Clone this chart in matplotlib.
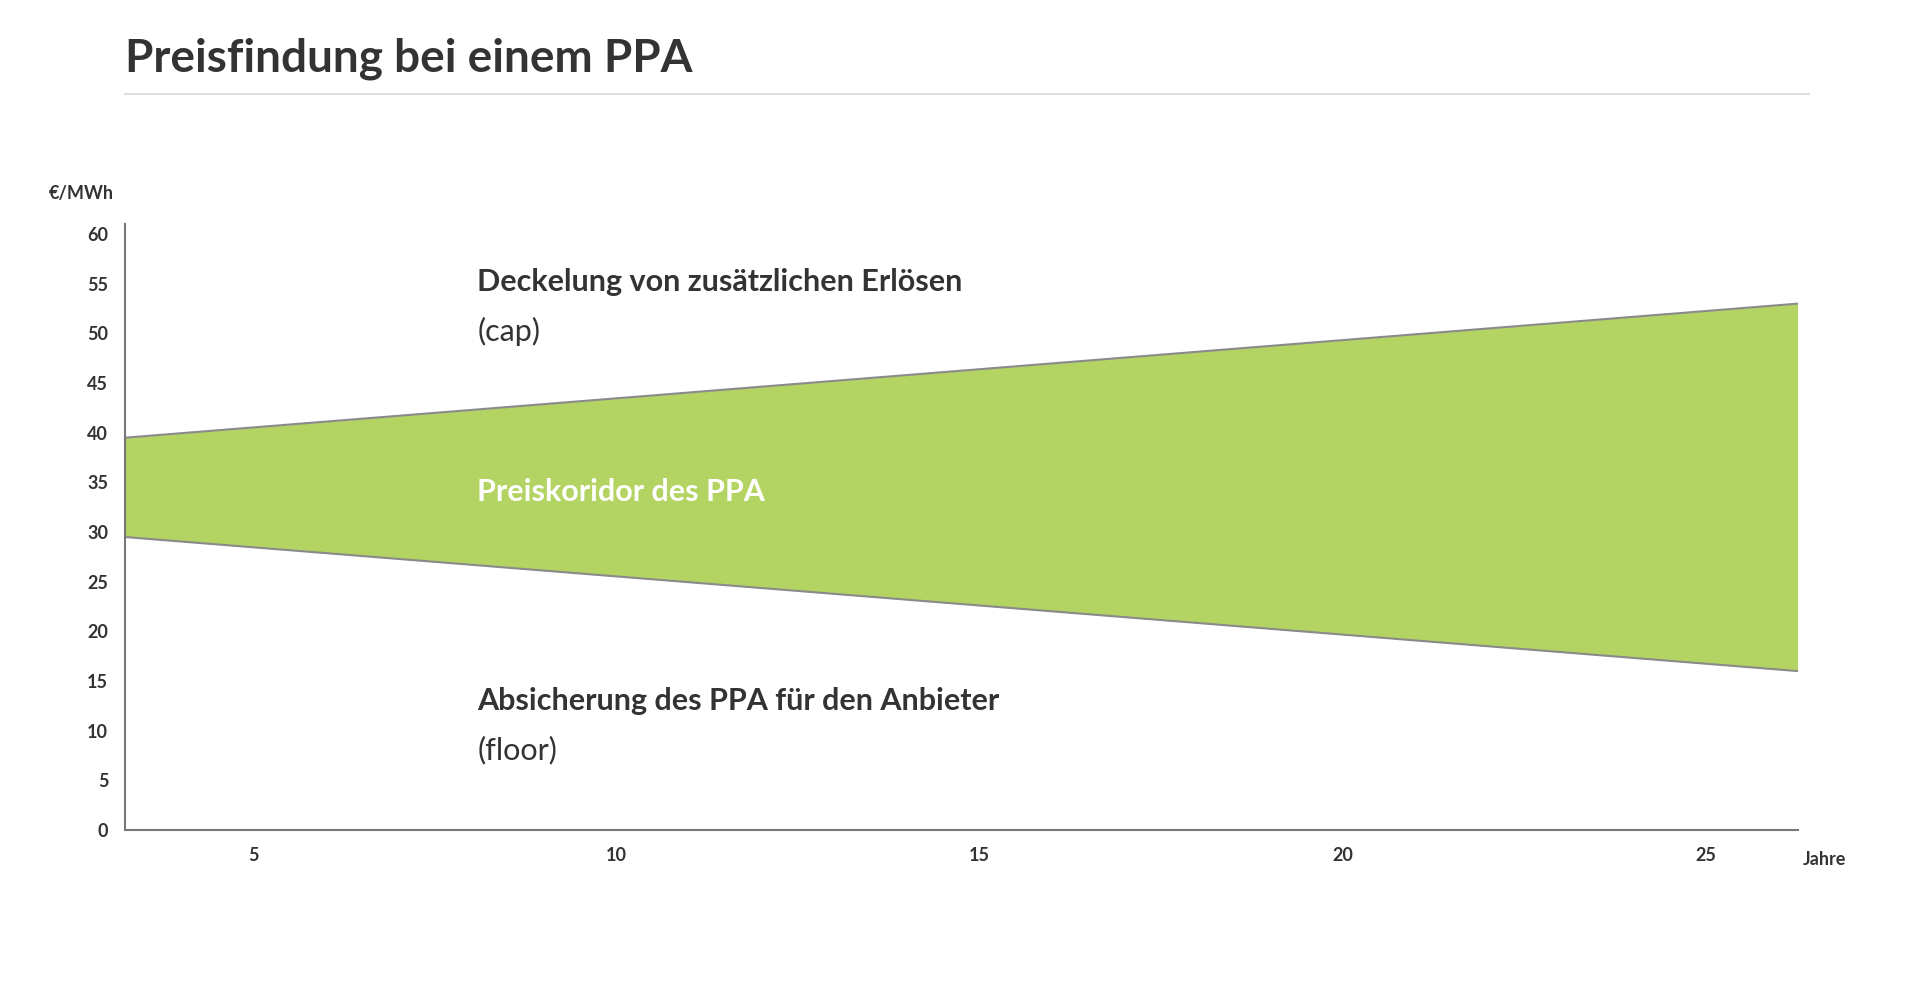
import matplotlib
matplotlib.use("Agg")
import matplotlib.pyplot as plt

years = [3.23, 26.26]
cap = [39.5, 53.0]
floor = [29.5, 16.0]
xticks = [5, 10, 15, 20, 25]
yticks = list(range(0, 61, 5))

plt.rcParams["font.family"] = "Lato"
fig = plt.figure(figsize=(19.2, 9.93), dpi=100)
W, H = 1568, 810
ax = fig.add_axes([102/W, 1-677/H, (1468-102)/W, (677-183)/H])
ax.set_xlim(years[0], years[1])
ax.set_ylim(0, 60*(677-183)/(677-191))
ax.fill_between(years, floor, cap, color="#b3d463", lw=0)
ax.plot(years, cap, color="#8a8a8a", lw=1.5)
ax.plot(years, floor, color="#8a8a8a", lw=1.5)
for s in ["top", "right"]:
    ax.spines[s].set_visible(False)
for s in ["left", "bottom"]:
    ax.spines[s].set_color("#777777")
    ax.spines[s].set_linewidth(1.5)
ax.set_xticks(xticks)
ax.set_yticks(yticks)
ax.tick_params(length=0, labelsize=13, colors="#333333", pad=12)
for l in ax.get_xticklabels() + ax.get_yticklabels():
    l.set_fontweight("bold")

kw = dict(fontsize=22, color="#333333", va="center")
ax.text(8.08, 55.2, "Deckelung von zusätzlichen Erlösen", fontweight="bold", **kw)
ax.text(8.08, 50.2, "(cap)", **kw)
ax.text(8.08, 34.0, "Preiskoridor des PPA", fontsize=22, color="white", fontweight="bold", va="center")
ax.text(8.08, 13.0, "Absicherung des PPA für den Anbieter", fontweight="bold", **kw)
ax.text(8.08, 8.0, "(floor)", **kw)

fig.text(1472/W, 1-701/H, "Jahre", fontsize=13, fontweight="bold", color="#333333", va="center")
fig.text(40/W, 1-158/H, "€/MWh", fontsize=13, fontweight="bold", color="#333333", va="center")
fig.text(102/W, 1-48/H, "Preisfindung bei einem PPA", fontsize=33, fontweight="bold", color="#333333", va="center")
fig.add_artist(plt.Line2D([102/W, 1477/W], [1-77/H, 1-77/H], color="#dddddd", lw=1.5))

fig.savefig("out.png", dpi=100, facecolor="white")
